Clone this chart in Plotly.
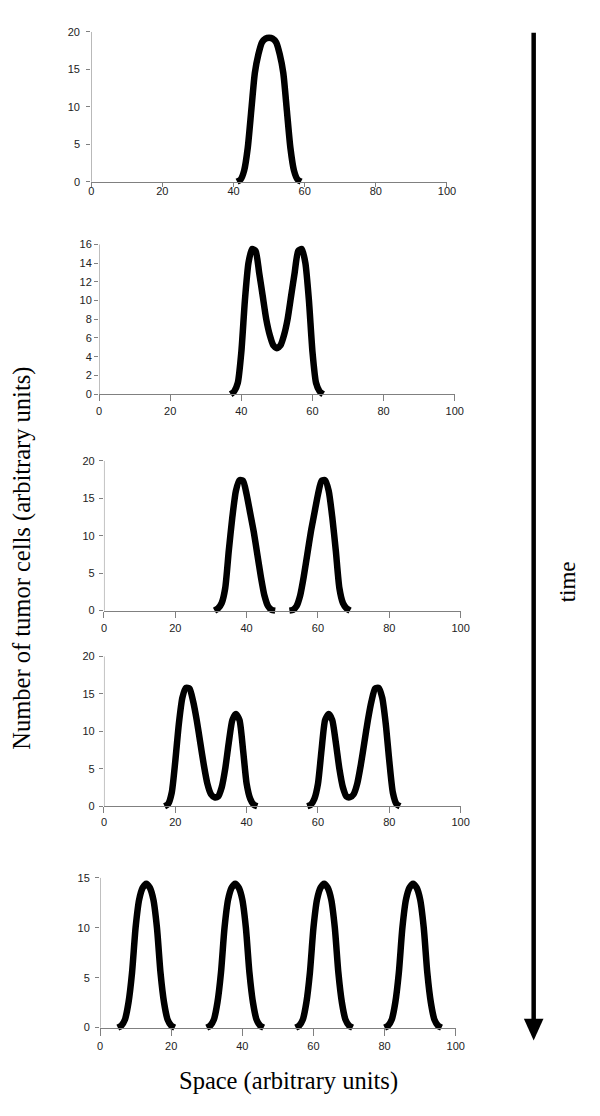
import plotly.graph_objects as go

W, H = 600, 1116

# %%
# Daten
# Panel 1: ein Peak
x1 = [41, 42, 43, 44, 45, 46, 47, 48, 49, 50, 51, 52, 53, 54, 55, 56, 57, 58, 59]
y1 = [0, 0.3, 1.5, 4.5, 9.5, 14.5, 17, 18.6, 19.1, 19.2, 19.1, 18.6, 17, 14.5, 9.5, 4.5, 1.5, 0.3, 0]

# Panel 2: Doppelpeak
x2 = [37, 38, 39, 40, 41, 42, 43, 44, 45, 46, 47, 48, 49, 50,
      51, 52, 53, 54, 55, 56, 57, 58, 59, 60, 61, 62, 63]
y2 = [0, 0.3, 1.2, 4.5, 10, 14, 15.5, 15.3, 13, 10.5, 8, 6.3, 5.2, 4.9,
      5.2, 6.3, 8, 10.5, 13, 15.3, 15.5, 14, 10, 4.5, 1.2, 0.3, 0]

# Panel 3: zwei getrennte Peaks (None = Lücke)
x3 = [31, 32, 33, 34, 35, 36, 37, 38, 39, 40, 41, 42, 43, 44, 45, 46, 47, 48, None,
      52, 53, 54, 55, 56, 57, 58, 59, 60, 61, 62, 63, 64, 65, 66, 67, 68, 69]
y3 = [0, 0.3, 1, 3, 8, 12.5, 16, 17.4, 17.3, 15.5, 13, 10.5, 7.5, 4.5, 2, 0.6, 0.1, 0, None,
      0, 0.1, 0.6, 2, 4.5, 7.5, 10.5, 13, 15.5, 17.3, 17.4, 16, 12.5, 8, 3, 1, 0.3, 0]

# Panel 4: zwei Doppelpeaks
x4 = [17, 18, 19, 20, 21, 22, 23, 24, 25, 26, 27, 28, 29, 30, 31, 32, 33, 34, 35, 36,
      37, 38, 39, 40, 41, 42, 43, None,
      57, 58, 59, 60, 61, 62, 63, 64, 65, 66, 67, 68, 69, 70, 71, 72, 73, 74, 75, 76,
      77, 78, 79, 80, 81, 82, 83]
y4 = [0, 0.3, 1.8, 6, 11, 14.5, 15.8, 15.7, 14, 11.5, 8.5, 5.5, 3, 1.6, 1.2, 1.3, 2.5, 5, 8.5, 11.5,
      12.3, 11.5, 7.5, 3, 1, 0.2, 0, None,
      0, 0.2, 1, 3, 7.5, 11.5, 12.3, 11.5, 8.5, 5, 2.5, 1.3, 1.2, 1.6, 3, 5.5, 8.5, 11.5, 14, 15.7,
      15.8, 14.5, 11, 6, 1.8, 0.3, 0]

# Panel 5: vier Peaks
x5 = [5, 6, 7, 8, 9, 10, 11, 12, 13, 14, 15, 16, 17, 18, 19, 20, 21, None,
      30, 31, 32, 33, 34, 35, 36, 37, 38, 39, 40, 41, 42, 43, 44, 45, 46, None,
      55, 56, 57, 58, 59, 60, 61, 62, 63, 64, 65, 66, 67, 68, 69, 70, 71, None,
      80, 81, 82, 83, 84, 85, 86, 87, 88, 89, 90, 91, 92, 93, 94, 95, 96]
y5 = [0, 0.2, 0.8, 2.5, 5.5, 10, 12.8, 14, 14.4, 14, 12.8, 10, 5.5, 2.5, 0.8, 0.2, 0, None,
      0, 0.2, 0.8, 2.5, 5.5, 10, 12.8, 14, 14.4, 14, 12.8, 10, 5.5, 2.5, 0.8, 0.2, 0, None,
      0, 0.2, 0.8, 2.5, 5.5, 10, 12.8, 14, 14.4, 14, 12.8, 10, 5.5, 2.5, 0.8, 0.2, 0, None,
      0, 0.2, 0.8, 2.5, 5.5, 10, 12.8, 14, 14.4, 14, 12.8, 10, 5.5, 2.5, 0.8, 0.2, 0]

xs = [x1, x2, x3, x4, x5]
ys = [y1, y2, y3, y4, y5]
y_max = [20, 16, 20, 20, 15]
y_step = [5, 2, 5, 5, 5]
x_ticks = [0, 20, 40, 60, 80, 100]

# %%
# Lage der Panels in Pixeln: links, rechts, Nulllinie, oben
boxes = [
    (90, 453, 177, 26),
    (98, 461, 391, 240),
    (103, 467, 609, 458),
    (103, 467, 806, 655),
    (99, 462, 1029, 878),
]
# Tick-Längen und Abstände der Beschriftungen je Panel
x_ticklen = [4, 6, 6, 6, 7]
x_standoff = [-5, 1, 1, 0, 1]
y_standoff = [4, 0, 2, 2, 3]
PAD = 4  # Pixel unter der Nulllinie, damit die dicke Linie nicht abgeschnitten wird

AXIS_GREY = "#808080"
tick_font = dict(family="Liberation Sans, Arial", size=11, color="#222222")

fig = go.Figure()
layout = {}
shapes = []

for i in range(5):
    n = "" if i == 0 else str(i + 1)
    left, right, zero, top = boxes[i]
    ymin = -PAD * y_max[i] / (zero - top)

    fig.add_trace(go.Scatter(
        x=xs[i], y=ys[i],
        mode="lines",
        line=dict(color="black", width=6.5, shape="spline", smoothing=0.6),
        connectgaps=False,
        showlegend=False,
        hoverinfo="skip",
        xaxis="x" + n, yaxis="y" + n,
    ))

    layout["xaxis" + n] = dict(
        domain=[left / W, right / W],
        range=[0, 100],
        anchor="free",
        position=1 - zero / H,
        tickvals=x_ticks,
        ticks="outside", ticklen=x_ticklen[i], tickcolor=AXIS_GREY,
        ticklabelstandoff=x_standoff[i],
        showline=True, linecolor=AXIS_GREY, linewidth=1,
        showgrid=False, zeroline=False,
        tickfont=tick_font,
        fixedrange=True,
    )
    layout["yaxis" + n] = dict(
        domain=[1 - (zero + PAD) / H, 1 - top / H],
        range=[ymin, y_max[i]],
        anchor="x" + n,
        tickvals=list(range(0, y_max[i] + 1, y_step[i])),
        ticks="outside", ticklen=4, tickcolor=AXIS_GREY,
        ticklabelstandoff=y_standoff[i],
        showline=False,
        showgrid=False, zeroline=False,
        tickfont=tick_font,
        fixedrange=True,
    )
    # y-Achsenlinie nur von 0 bis Maximum
    shapes.append(dict(
        type="line", xref="x" + n, yref="y" + n,
        x0=0, x1=0, y0=0, y1=y_max[i],
        line=dict(color=AXIS_GREY, width=1),
    ))

# %%
# Zeitpfeil rechts
shapes.append(dict(
    type="line", xref="paper", yref="paper",
    x0=541.5 / W, x1=541.5 / W, y0=1 - 27 / H, y1=1 - 1022 / H,
    line=dict(color="black", width=4.5),
))
shapes.append(dict(
    type="path", xref="paper", yref="paper",
    path=f"M {531.5 / W},{1 - 1020 / H} L {551.5 / W},{1 - 1020 / H} L {541.5 / W},{1 - 1042 / H} Z",
    fillcolor="black", line=dict(color="black", width=0),
))

serif = "Liberation Serif, Times New Roman, serif"
annotations = [
    dict(text="Number of tumor cells (arbitrary units)", textangle=-90,
         x=19 / W, y=1 - 556 / H, xref="paper", yref="paper",
         xanchor="center", yanchor="middle", showarrow=False,
         font=dict(family=serif, size=24.5, color="black")),
    dict(text="Space (arbitrary units)",
         x=291.5 / W, y=1 - 1083 / H, xref="paper", yref="paper",
         xanchor="center", yanchor="middle", showarrow=False,
         font=dict(family=serif, size=24.5, color="black")),
    dict(text="time", textangle=-90,
         x=576 / W, y=1 - 580 / H, xref="paper", yref="paper",
         xanchor="center", yanchor="middle", showarrow=False,
         font=dict(family=serif, size=23, color="black")),
]

fig.update_layout(
    width=W, height=H,
    margin=dict(l=0, r=0, t=0, b=0),
    paper_bgcolor="white", plot_bgcolor="white",
    shapes=shapes,
    annotations=annotations,
    **layout,
)

# Seitenrand und Scrollbalken des Browsers entfernen, damit die Grafik bei (0,0) beginnt
fig.write_html(
    "out.html",
    config={"displayModeBar": False, "responsive": False},
    post_script=(
        "document.body.style.margin = '0px';"
        "document.body.style.overflow = 'hidden';"
        "document.documentElement.style.overflow = 'hidden';"
    ),
)
